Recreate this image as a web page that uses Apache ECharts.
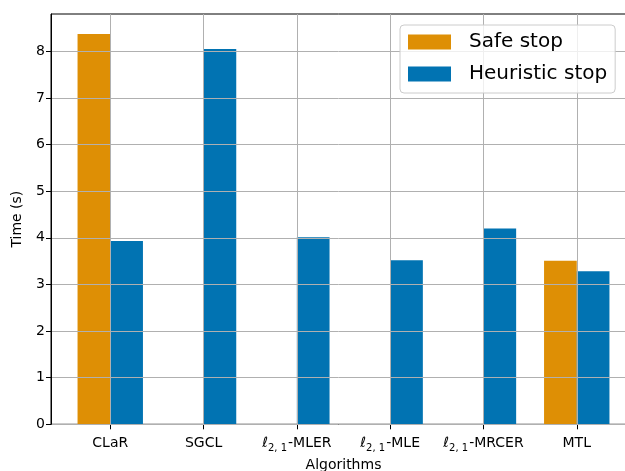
<!DOCTYPE html>
<html>
<head>
<meta charset="utf-8">
<script src="https://cdn.jsdelivr.net/npm/echarts@6/dist/echarts.min.js"></script>
<style>
  html, body { margin: 0; padding: 0; background: #fff; }
  #chart { width: 625px; height: 471px; }
</style>
</head>
<body>
<div id="chart"></div>
<script>
  const categories = ["CLaR", "SGCL", "ℓ2,1-MLER", "ℓ2,1-MLE", "ℓ2,1-MRCER", "MTL"];
  const safeStop = [8.37, null, null, null, null, 3.51];
  const heuristicStop = [3.93, 8.05, 4.01, 3.52, 4.20, 3.28];
  const yTicks = [0, 1, 2, 3, 4, 5, 6, 7, 8];

  const font = "DejaVu Sans";
  const tickIndex = categories.map((_, i) => i);
  const toPairs = (values) => values
    .map((v, i) => (v === null ? null : [i, v]))
    .filter((p) => p !== null);

  const labelFor = (value) => {
    const name = categories[Math.round(value)] || "";
    return name.startsWith("ℓ2,1")
      ? `{ell|ℓ}{sub|2, 1}{txt|${name.slice(4)}}`
      : `{txt|${name}}`;
  };

  const chart = echarts.init(document.getElementById("chart"), null, { renderer: "canvas" });
  chart.setOption({
    animation: false,
    backgroundColor: "#fff",
    textStyle: { fontFamily: font },
    grid: {
      left: 51, top: 14, width: 585, height: 410.3,
      outerBoundsMode: "none",
      containLabel: false,
      show: true, borderColor: "#000", borderWidth: 1, backgroundColor: "transparent",
    },
    legend: {
      orient: "vertical",
      left: 400, top: 25,
      padding: [7, 8, 9, 8],
      backgroundColor: "rgba(255,255,255,0.8)",
      borderColor: "#cccccc", borderWidth: 1, borderRadius: 4,
      icon: "rect",
      itemWidth: 43, itemHeight: 15, itemGap: 12,
      textStyle: { fontFamily: font, fontSize: 20, lineHeight: 20, color: "#000", padding: [0, 0, 0, 13] },
      data: ["Safe stop", "Heuristic stop"],
      z: 20,
    },
    xAxis: {
      type: "value",
      min: -0.635, max: 5.635,
      name: "Algorithms",
      nameLocation: "middle",
      nameGap: 31,
      nameTextStyle: { fontFamily: font, fontSize: 14, color: "#000" },
      axisLine: { show: true, onZero: false, lineStyle: { color: "#000", width: 1 } },
      axisTick: { show: true, length: 5, customValues: tickIndex, lineStyle: { color: "#000", width: 1 } },
      axisLabel: {
        customValues: tickIndex,
        margin: 8,
        color: "#000",
        formatter: labelFor,
        rich: {
          txt: { fontFamily: font, fontSize: 14, color: "#000", lineHeight: 18, verticalAlign: "bottom" },
          ell: { fontFamily: font, fontSize: 14, fontStyle: "italic", color: "#000", lineHeight: 18, verticalAlign: "bottom" },
          sub: { fontFamily: font, fontSize: 10, color: "#000", lineHeight: 18, verticalAlign: "bottom", padding: [0, 1, -3, 0] },
        },
      },
      splitLine: { show: false },
    },
    yAxis: {
      type: "value",
      min: 0, max: 8.8,
      interval: 1,
      z: 6,
      name: "Time (s)",
      nameLocation: "middle",
      nameRotate: 90,
      nameGap: 27,
      nameTextStyle: { fontFamily: font, fontSize: 14, color: "#000" },
      axisLine: { show: true, onZero: false, lineStyle: { color: "#000", width: 1 } },
      axisTick: { show: true, length: 5, customValues: yTicks, lineStyle: { color: "#000", width: 1 } },
      axisLabel: { customValues: yTicks, margin: 6, fontFamily: font, fontSize: 14, color: "#000" },
      splitLine: { show: true, lineStyle: { color: "#b0b0b0", width: 1 } },
    },
    series: [
      {
        name: "Safe stop",
        type: "bar",
        barWidth: 32.7,
        barGap: "0%",
        itemStyle: { color: "#de8f05" },
        data: toPairs(safeStop),
      },
      {
        name: "Heuristic stop",
        type: "bar",
        barWidth: 32.7,
        barGap: "0%",
        itemStyle: { color: "#0173b2" },
        data: toPairs(heuristicStop),
      },
      {
        // vertical grid lines at the category ticks, drawn over the bars
        name: "grid",
        type: "scatter",
        data: [],
        z: 5,
        markLine: {
          silent: true,
          symbol: "none",
          z: 5,
          label: { show: false },
          lineStyle: { color: "#b0b0b0", width: 1, type: "solid" },
          data: tickIndex.map((i) => ({ xAxis: i })),
        },
      },
    ],
  });
</script>
</body>
</html>
